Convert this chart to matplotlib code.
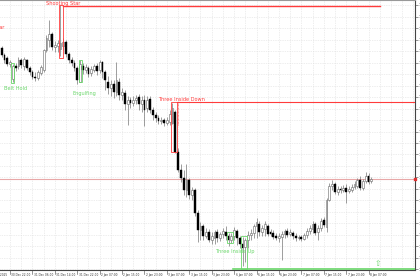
import numpy as np
import matplotlib
matplotlib.use("Agg")
import matplotlib.pyplot as plt
from matplotlib.patches import Rectangle
import matplotlib.transforms as mtransforms

# hourly bars, index 0 = 30 Dec 22:00
bar_idx = np.arange(-3, 130)

opens = [1.0402, 1.0395, 1.0392, 1.0386, 1.0371, 1.0384, 1.0384, 1.0390, 1.0384, 1.0390,
         1.0382, 1.0378, 1.0373, 1.0372, 1.0377, 1.0380, 1.0400, 1.0410, 1.0416, 1.0403,
         1.0404, 1.0401, 1.0404, 1.0408, 1.0396, 1.0390, 1.0387, 1.0382, 1.0368, 1.0384,
         1.0380, 1.0382, 1.0377, 1.0380, 1.0384, 1.0380, 1.0388, 1.0378, 1.0368, 1.0362,
         1.0366, 1.0358, 1.0368, 1.0355, 1.0357, 1.0346, 1.0350, 1.0347, 1.0350, 1.0353,
         1.0346, 1.0350, 1.0342, 1.0351, 1.0340, 1.0335, 1.0332, 1.0329, 1.0330, 1.0327,
         1.0328, 1.0327, 1.0338, 1.0298, 1.0280, 1.0272, 1.0260, 1.0270, 1.0255, 1.0260,
         1.0237, 1.0220, 1.0224, 1.0214, 1.0218, 1.0210, 1.0212, 1.0218, 1.0212, 1.0216,
         1.0218, 1.0214, 1.0210, 1.0214, 1.0219, 1.0212, 1.0206, 1.0203, 1.0210, 1.0215,
         1.0217, 1.0224, 1.0226, 1.0218, 1.0221, 1.0224, 1.0218, 1.0217, 1.0214, 1.0212,
         1.0213, 1.0216, 1.0219, 1.0216, 1.0217, 1.0214, 1.0212, 1.0213, 1.0211, 1.0215,
         1.0219, 1.0221, 1.0226, 1.0218, 1.0222, 1.0230, 1.0223, 1.0250, 1.0264, 1.0266,
         1.0258, 1.0261, 1.0260, 1.0262, 1.0259, 1.0260, 1.0263, 1.0264, 1.0270, 1.0262,
         1.0269, 1.0274, 1.0269]

highs = [1.0404, 1.0397, 1.0394, 1.0390, 1.0386, 1.0387, 1.0393, 1.0392, 1.0393, 1.0391,
         1.0384, 1.0380, 1.0378, 1.0380, 1.0385, 1.0401, 1.0415, 1.0430, 1.0418, 1.0409,
         1.0410, 1.0445, 1.0412, 1.0410, 1.0398, 1.0393, 1.0390, 1.0384, 1.0390, 1.0387,
         1.0386, 1.0384, 1.0384, 1.0386, 1.0387, 1.0390, 1.0389, 1.0380, 1.0374, 1.0370,
         1.0370, 1.0388, 1.0372, 1.0362, 1.0360, 1.0354, 1.0353, 1.0354, 1.0355, 1.0356,
         1.0354, 1.0355, 1.0354, 1.0354, 1.0343, 1.0338, 1.0335, 1.0333, 1.0332, 1.0333,
         1.0340, 1.0347, 1.0340, 1.0302, 1.0286, 1.0280, 1.0286, 1.0272, 1.0263, 1.0262,
         1.0240, 1.0228, 1.0226, 1.0222, 1.0221, 1.0218, 1.0220, 1.0221, 1.0218, 1.0222,
         1.0224, 1.0217, 1.0217, 1.0223, 1.0221, 1.0214, 1.0213, 1.0212, 1.0219, 1.0221,
         1.0226, 1.0232, 1.0229, 1.0225, 1.0229, 1.0226, 1.0221, 1.0220, 1.0217, 1.0217,
         1.0219, 1.0221, 1.0222, 1.0221, 1.0219, 1.0217, 1.0215, 1.0215, 1.0217, 1.0222,
         1.0225, 1.0229, 1.0228, 1.0225, 1.0232, 1.0233, 1.0252, 1.0267, 1.0270, 1.0268,
         1.0264, 1.0264, 1.0265, 1.0266, 1.0264, 1.0266, 1.0269, 1.0272, 1.0274, 1.0271,
         1.0278, 1.0277, 1.0273]

lows = [1.0393, 1.0387, 1.0384, 1.0383, 1.0368, 1.0379, 1.0381, 1.0382, 1.0380, 1.0380,
        1.0375, 1.0371, 1.0369, 1.0370, 1.0375, 1.0378, 1.0398, 1.0403, 1.0400, 1.0398,
        1.0398, 1.0394, 1.0400, 1.0393, 1.0387, 1.0384, 1.0379, 1.0366, 1.0368, 1.0376,
        1.0377, 1.0373, 1.0374, 1.0378, 1.0375, 1.0377, 1.0372, 1.0360, 1.0356, 1.0354,
        1.0352, 1.0354, 1.0350, 1.0350, 1.0340, 1.0325, 1.0342, 1.0344, 1.0346, 1.0340,
        1.0338, 1.0324, 1.0338, 1.0337, 1.0330, 1.0328, 1.0326, 1.0326, 1.0324, 1.0325,
        1.0325, 1.0326, 1.0297, 1.0278, 1.0268, 1.0255, 1.0253, 1.0251, 1.0250, 1.0234,
        1.0208, 1.0210, 1.0210, 1.0212, 1.0208, 1.0206, 1.0206, 1.0208, 1.0209, 1.0212,
        1.0210, 1.0204, 1.0207, 1.0210, 1.0205, 1.0202, 1.0184, 1.0188, 1.0202, 1.0210,
        1.0212, 1.0212, 1.0214, 1.0214, 1.0214, 1.0214, 1.0214, 1.0211, 1.0210, 1.0208,
        1.0190, 1.0212, 1.0213, 1.0214, 1.0211, 1.0209, 1.0210, 1.0209, 1.0210, 1.0212,
        1.0216, 1.0217, 1.0215, 1.0210, 1.0219, 1.0223, 1.0218, 1.0249, 1.0260, 1.0256,
        1.0255, 1.0257, 1.0258, 1.0247, 1.0257, 1.0258, 1.0261, 1.0262, 1.0260, 1.0260,
        1.0267, 1.0266, 1.0267]

closes = [1.0395, 1.0390, 1.0386, 1.0388, 1.0384, 1.0382, 1.0390, 1.0385, 1.0391, 1.0382,
          1.0378, 1.0373, 1.0372, 1.0378, 1.0383, 1.0400, 1.0412, 1.0416, 1.0403, 1.0405,
          1.0407, 1.0407, 1.0408, 1.0396, 1.0390, 1.0387, 1.0382, 1.0370, 1.0386, 1.0380,
          1.0383, 1.0376, 1.0381, 1.0384, 1.0379, 1.0388, 1.0378, 1.0370, 1.0362, 1.0366,
          1.0358, 1.0370, 1.0355, 1.0358, 1.0346, 1.0350, 1.0347, 1.0350, 1.0352, 1.0346,
          1.0350, 1.0340, 1.0350, 1.0340, 1.0335, 1.0332, 1.0329, 1.0330, 1.0327, 1.0330,
          1.0336, 1.0342, 1.0298, 1.0280, 1.0272, 1.0260, 1.0270, 1.0255, 1.0260, 1.0237,
          1.0220, 1.0224, 1.0214, 1.0218, 1.0210, 1.0214, 1.0218, 1.0212, 1.0216, 1.0219,
          1.0214, 1.0210, 1.0214, 1.0220, 1.0212, 1.0206, 1.0202, 1.0210, 1.0215, 1.0217,
          1.0224, 1.0228, 1.0218, 1.0222, 1.0226, 1.0216, 1.0216, 1.0213, 1.0212, 1.0214,
          1.0216, 1.0219, 1.0215, 1.0218, 1.0214, 1.0212, 1.0213, 1.0211, 1.0215, 1.0219,
          1.0222, 1.0226, 1.0217, 1.0222, 1.0229, 1.0225, 1.0250, 1.0264, 1.0266, 1.0258,
          1.0261, 1.0260, 1.0262, 1.0258, 1.0261, 1.0263, 1.0266, 1.0270, 1.0262, 1.0269,
          1.0274, 1.0268, 1.0271]

time_labels = ["30 Dec 2025", "30 Dec 22:00", "31 Dec 06:00", "31 Dec 14:00", "31 Dec 22:00",
               "2 Jan 07:00", "2 Jan 15:00", "2 Jan 23:00", "3 Jan 07:00", "3 Jan 15:00",
               "3 Jan 23:00", "6 Jan 07:00", "6 Jan 15:00", "6 Jan 23:00", "7 Jan 07:00",
               "7 Jan 15:00", "7 Jan 23:00", "8 Jan 07:00"]
label_bars = np.arange(-8, 129, 8)

bid = 1.0271

bear_red = "#ff3b3b"
bull_green = "#6ad66a"

o = np.array(opens); h = np.array(highs); l = np.array(lows); c = np.array(closes)
x = bar_idx

fig = plt.figure(figsize=(4.2, 2.8), dpi=100)
ax = fig.add_axes([0, 10 / 280, 415 / 420, 270 / 280])
ax.set_facecolor("white")

xmin, xmax = -3.6, 144.6
ymin, ymax = 1.0180, 1.0450
ax.set_xlim(xmin, xmax)
ax.set_ylim(ymin, ymax)

# grid (price steps are 11.5 px apart like the terminal)
yt = np.arange(1.0445, 1.0179, -0.00115)
ax.set_yticks(yt)
ax.set_xticks(np.arange(0, 145, 4))
ax.grid(True, color="#dcdcdc", linestyle=(0, (1, 1.5)), linewidth=0.5)
ax.set_axisbelow(True)

# current price line
ax.axhline(bid, color="#e8a8a8", lw=0.8, zorder=1)

# candles
up = c >= o
ax.vlines(x, l, h, color="#777777", lw=0.5, zorder=2)
ax.bar(x[up], (c - o)[up] + 0.00002, bottom=o[up], width=0.62, color="white",
       edgecolor="#666666", linewidth=0.4, zorder=3)
ax.bar(x[~up], (o - c)[~up], bottom=c[~up], width=0.62, color="black",
       edgecolor="black", linewidth=0.3, zorder=3)

def box(x0, x1, y0, y1, col, lw=0.6, ls="-"):
    ax.add_patch(Rectangle((x0, y0), x1 - x0, y1 - y0, fill=False, edgecolor=col,
                           lw=lw, ls=ls, zorder=4))

fs = 3.6
# shooting star
box(17.4, 18.8, 1.0392, 1.0445, bear_red)
ax.plot([18.8, 132.0], [1.0444, 1.0444], color=bear_red, lw=1.0, zorder=4)
ax.text(18.9, 1.0447, "Shooting Star", color=bear_red, fontsize=fs, ha="center", va="center")
# earlier label, only its tail shows on the left edge
ax.text(-2.2, 1.0422, "Shooting Star", color=bear_red, fontsize=fs, ha="right", va="center",
        clip_on=False)
# belt hold
box(0.5, 1.5, 1.0367, 1.0387, bull_green)
ax.text(2.1, 1.0362, "Belt Hold", color=bull_green, fontsize=fs, ha="center", va="center")
# engulfing
box(24.5, 25.6, 1.0368, 1.0390, bull_green)
ax.text(26.4, 1.0357, "Engulfing", color=bull_green, fontsize=fs, ha="center", va="center")
# three inside down
box(57.4, 59.6, 1.0298, 1.0348, bear_red)
ax.plot([59.9, 59.9], [1.0348, 1.0325], color=bear_red, lw=0.5, ls=(0, (1, 1)), zorder=4)
ax.plot([59.6, xmax], [1.0348, 1.0348], color=bear_red, lw=0.8, zorder=4)
ax.text(61.1, 1.03505, "Three Inside Down", color=bear_red, fontsize=fs, ha="center",
        va="center")
# three inside up
box(77.5, 79.6, 1.0207, 1.0218, bull_green)
box(82.5, 84.6, 1.0181, 1.0214, bull_green)
ax.plot([79.6, xmax], [1.0181, 1.0181], color=bull_green, lw=1.2, zorder=4)
ax.text(80.2, 1.0199, "Three Inside Up", color=bull_green, fontsize=fs, ha="center",
        va="center")
ax.text(131.4, 1.0187, "\u21e7", color=bull_green, fontsize=5.5, ha="center", va="center")

# spines
ax.spines["left"].set_visible(False)
ax.spines["top"].set_color("#999999")
ax.spines["top"].set_linewidth(0.8)
ax.spines["right"].set_color("#444444")
ax.spines["right"].set_linewidth(0.8)
ax.spines["bottom"].set_color("#444444")
ax.spines["bottom"].set_linewidth(0.8)

# price scale sits mostly beyond the right edge, as in the screenshot
ax.yaxis.tick_right()
ax.set_yticklabels(["%.5f" % v for v in yt], fontsize=2.6, color="#333333")
ax.tick_params(axis="y", length=2, width=0.4, color="#444444", pad=0.8)
ax.tick_params(axis="x", length=0, labelbottom=False)

# bid marker
ax.plot([xmax], [bid], marker="s", ms=2.0, color="#e03030", clip_on=False, zorder=6)

# time labels
trans = mtransforms.blended_transform_factory(ax.transData, ax.transAxes)
for b, txt in zip(label_bars, time_labels):
    ax.plot([b, b], [0, -0.014], color="#444444", lw=0.4, transform=trans, clip_on=False)
    ax.text(b + 0.5, -0.012, txt, transform=trans, fontsize=2.1, color="#333333",
            ha="left", va="top", clip_on=False)

fig.savefig("out.png", dpi=100)
